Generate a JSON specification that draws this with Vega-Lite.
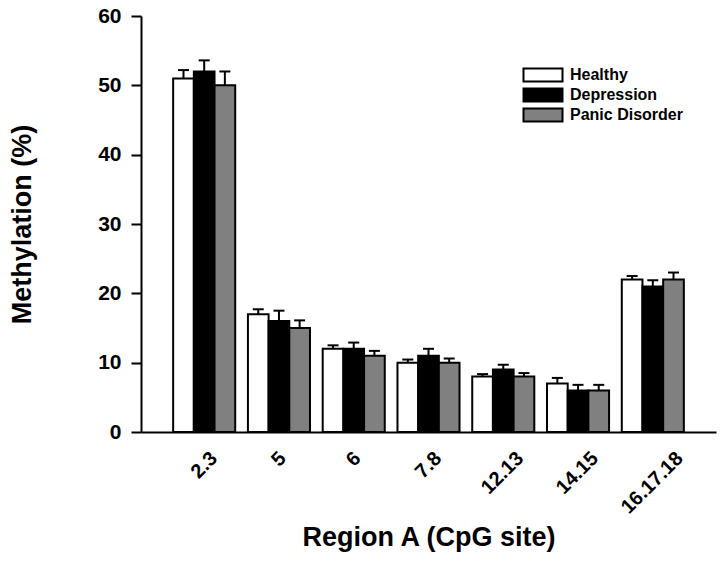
{
  "$schema": "https://vega.github.io/schema/vega-lite/v6.json",
  "autosize": {"type": "none"},
  "width": 575,
  "height": 416,
  "padding": {"left": 141, "top": 16, "right": 11, "bottom": 130},
  "background": "white",
  "config": {
    "view": {"stroke": null},
    "font": "Liberation Sans",
    "axis": {"domainColor": "black", "domainWidth": 2, "tickColor": "black", "tickWidth": 2, "labelColor": "black", "titleColor": "black", "labelFont": "Liberation Sans", "titleFont": "Liberation Sans", "labelFontWeight": "bold", "titleFontWeight": "bold", "grid": false}
  },
  "data": {
    "values": [
      {"site": "2.3", "group": "Healthy", "value": 51, "upper": 52.2},
      {"site": "2.3", "group": "Depression", "value": 52, "upper": 53.6},
      {"site": "2.3", "group": "Panic Disorder", "value": 50, "upper": 52.0},
      {"site": "5", "group": "Healthy", "value": 17, "upper": 17.7},
      {"site": "5", "group": "Depression", "value": 16, "upper": 17.5},
      {"site": "5", "group": "Panic Disorder", "value": 15, "upper": 16.1},
      {"site": "6", "group": "Healthy", "value": 12, "upper": 12.5},
      {"site": "6", "group": "Depression", "value": 12, "upper": 12.9},
      {"site": "6", "group": "Panic Disorder", "value": 11, "upper": 11.7},
      {"site": "7.8", "group": "Healthy", "value": 10, "upper": 10.45},
      {"site": "7.8", "group": "Depression", "value": 11, "upper": 12.0},
      {"site": "7.8", "group": "Panic Disorder", "value": 10, "upper": 10.6},
      {"site": "12.13", "group": "Healthy", "value": 8, "upper": 8.35},
      {"site": "12.13", "group": "Depression", "value": 9, "upper": 9.7},
      {"site": "12.13", "group": "Panic Disorder", "value": 8, "upper": 8.5},
      {"site": "14.15", "group": "Healthy", "value": 7, "upper": 7.8},
      {"site": "14.15", "group": "Depression", "value": 6, "upper": 6.8},
      {"site": "14.15", "group": "Panic Disorder", "value": 6, "upper": 6.8},
      {"site": "16.17.18", "group": "Healthy", "value": 22, "upper": 22.5},
      {"site": "16.17.18", "group": "Depression", "value": 21, "upper": 21.9},
      {"site": "16.17.18", "group": "Panic Disorder", "value": 22, "upper": 23.0}
    ]
  },
  "encoding": {
    "x": {
      "field": "site", "type": "nominal", "sort": null,
      "scale": {"paddingInner": 0.17, "paddingOuter": 0.43},
      "axis": {
        "title": "Region A (CpG site)", "titleFontSize": 27, "titlePadding": 7,
        "labelAngle": -45, "labelAlign": "right", "labelBaseline": "middle", "labelFontSize": 20,
        "ticks": false, "labelPadding": 23,
        "labelOffset": {"condition": [
          {"test": "length(datum.label) >= 8", "value": 27},
          {"test": "length(datum.label) == 5", "value": 17},
          {"test": "length(datum.label) == 3", "value": 10}
        ], "value": 4}
      }
    },
    "xOffset": {"field": "group", "type": "nominal", "sort": ["Healthy", "Depression", "Panic Disorder"], "scale": {"paddingInner": 0, "paddingOuter": 0}}
  },
  "layer": [
    {
      "mark": {"type": "rule", "color": "black", "strokeWidth": 2},
      "encoding": {
        "y": {"field": "value", "type": "quantitative"},
        "y2": {"field": "upper"}
      }
    },
    {
      "mark": {"type": "tick", "orient": "horizontal", "size": 11, "thickness": 2, "color": "black", "opacity": 1},
      "encoding": {
        "y": {"field": "upper", "type": "quantitative"}
      }
    },
    {
      "mark": {"type": "bar", "stroke": "black", "strokeWidth": 2, "opacity": 1},
      "encoding": {
        "y": {
          "field": "value", "type": "quantitative",
          "scale": {"domain": [0, 60], "nice": false},
          "axis": {"title": "Methylation (%)", "titleFontSize": 27, "titlePadding": 61, "values": [0, 10, 20, 30, 40, 50, 60], "labelFontSize": 21, "tickSize": 10, "labelPadding": 10}
        },
        "fill": {
          "field": "group", "type": "nominal",
          "sort": ["Healthy", "Depression", "Panic Disorder"],
          "scale": {"domain": ["Healthy", "Depression", "Panic Disorder"], "range": ["white", "black", "#808080"]},
          "legend": {
            "title": null, "orient": "none", "legendX": 381, "legendY": 51,
            "symbolType": "M-1,-1H5V1H-1Z", "symbolSize": 169,
            "symbolStrokeColor": "black", "symbolStrokeWidth": 2, "symbolOpacity": 1,
            "labelFontSize": 16, "labelFontWeight": "bold", "labelFont": "Liberation Sans", "labelColor": "black",
            "labelOffset": 32, "rowPadding": -2, "padding": 0
          }
        }
      }
    }
  ]
}
